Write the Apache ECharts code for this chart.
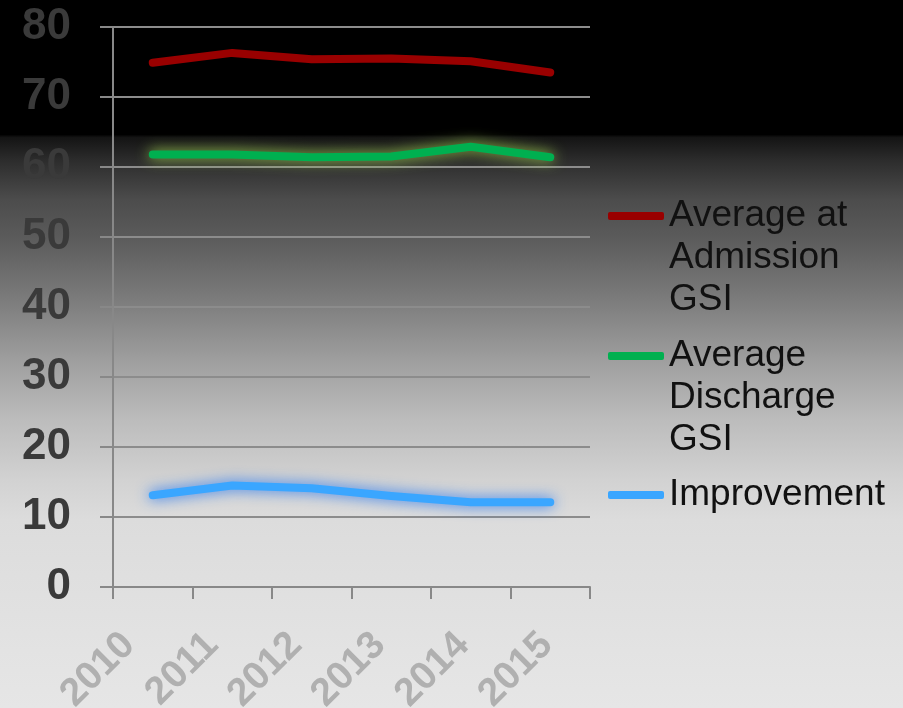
<!DOCTYPE html>
<html>
<head>
<meta charset="utf-8">
<script src="https://cdn.jsdelivr.net/npm/echarts@6/dist/echarts.min.js"></script>
<style>
html,body{margin:0;padding:0;}
#chart{width:903px;height:708px;}
</style>
</head>
<body>
<div id="chart"></div>
<script>
var categories = ['2010', '2011', '2012', '2013', '2014', '2015'];
var admission = [74.9, 76.3, 75.4, 75.5, 75.1, 73.5];
var discharge = [61.8, 61.8, 61.4, 61.5, 62.9, 61.4];
var improvement = [13.1, 14.5, 14.1, 13.0, 12.1, 12.1];
var seriesNames = ['Average at\nAdmission\nGSI', 'Average\nDischarge\nGSI', 'Improvement'];
var yTicks = { min: 0, max: 80, interval: 10 };

var chart = echarts.init(document.getElementById('chart'));

function legendFor(name, top, lines) {
  var lead = '';
  for (var k = 1; k < lines; k++) lead += '\n';
  return {
    data: [name],
    orient: 'vertical',
    left: 608,
    top: top,
    padding: 0,
    icon: 'roundRect',
    itemWidth: 56,
    itemHeight: 8,
    itemStyle: { shadowBlur: 0, shadowColor: 'transparent' },
    formatter: function (n) { return lead + n; },
    textStyle: {
      fontFamily: 'Liberation Sans, Arial, sans-serif',
      fontSize: 37,
      lineHeight: 42,
      color: '#111'
    },
    selectedMode: false
  };
}

// per-label shift (styling only) for rotated x labels
var labelRich = {};
for (var i = 0; i < 6; i++) {
  var dx = -24 + 4.1 * i;
  var a = dx / 1.414;
  var p = Math.max(0, -a);
  labelRich['l' + i] = {
    color: '#b0b0b0',
    fontFamily: 'Liberation Sans, Arial, sans-serif',
    fontWeight: 'bold',
    fontSize: 39,
    padding: [0, p, 2 * p, 0]
  };
}

chart.setOption({
  backgroundColor: {
    type: 'linear', x: 0, y: 0, x2: 0, y2: 1,
    colorStops: [
      { offset: 0, color: '#000000' },
      { offset: 0.190, color: '#000000' },
      { offset: 0.194, color: '#141414' },
      { offset: 0.226, color: '#2c2c2c' },
      { offset: 0.282, color: '#4c4c4c' },
      { offset: 0.339, color: '#5c5c5c' },
      { offset: 0.424, color: '#7c7c7c' },
      { offset: 0.508, color: '#9e9e9e' },
      { offset: 0.593, color: '#bcbcbc' },
      { offset: 0.678, color: '#d2d2d2' },
      { offset: 0.734, color: '#dcdcdc' },
      { offset: 1, color: '#e6e6e6' }
    ]
  },
  animation: false,
  grid: { left: 113, right: 313, top: 27, bottom: 121, containLabel: false, outerBoundsMode: 'none' },
  legend: [
    legendFor(seriesNames[0], 111, 3),
    legendFor(seriesNames[1], 251, 3),
    legendFor(seriesNames[2], 474, 1)
  ],
  xAxis: {
    type: 'category',
    data: categories,
    boundaryGap: true,
    axisLine: { show: true, lineStyle: { color: '#888', width: 2 } },
    axisTick: { show: true, length: 12, lineStyle: { color: '#888', width: 2 } },
    axisLabel: {
      rotate: 45,
      margin: 52,
      interval: 0,
      color: '#b0b0b0',
      fontFamily: 'Liberation Sans, Arial, sans-serif',
      fontWeight: 'bold',
      fontSize: 39,
      formatter: function (v, idx) { return '{l' + idx + '|' + v + '}'; },
      rich: labelRich
    },
    splitLine: { show: false }
  },
  yAxis: {
    type: 'value',
    min: yTicks.min,
    max: yTicks.max,
    interval: yTicks.interval,
    axisLine: { show: true, lineStyle: { color: '#888', width: 2 } },
    axisTick: { show: true, length: 13, lineStyle: { color: '#888', width: 2 } },
    axisLabel: {
      margin: 42,
      color: '#3a3a3a',
      fontFamily: 'Liberation Sans, Arial, sans-serif',
      fontWeight: 'bold',
      fontSize: 44
    },
    splitLine: { show: true, lineStyle: { color: '#8c8c8c', width: 2 } }
  },
  series: [
    {
      name: seriesNames[0],
      type: 'line',
      data: admission,
      showSymbol: false,
      symbol: 'none',
      color: '#990000',
      lineStyle: { width: 8, color: '#990000', cap: 'round', join: 'round' }
    },
    {
      name: seriesNames[1],
      type: 'line',
      data: discharge,
      showSymbol: false,
      symbol: 'none',
      color: '#00b050',
      lineStyle: {
        width: 8, color: '#00b050', cap: 'round', join: 'round',
        shadowBlur: 14, shadowColor: 'rgba(160,210,80,1)'
      }
    },
    {
      name: seriesNames[2],
      type: 'line',
      data: improvement,
      showSymbol: false,
      symbol: 'none',
      color: '#3aa6ff',
      lineStyle: {
        width: 8, color: '#3aa6ff', cap: 'round', join: 'round',
        shadowBlur: 14, shadowColor: 'rgba(40,120,240,1)'
      }
    }
  ]
});
</script>
</body>
</html>
